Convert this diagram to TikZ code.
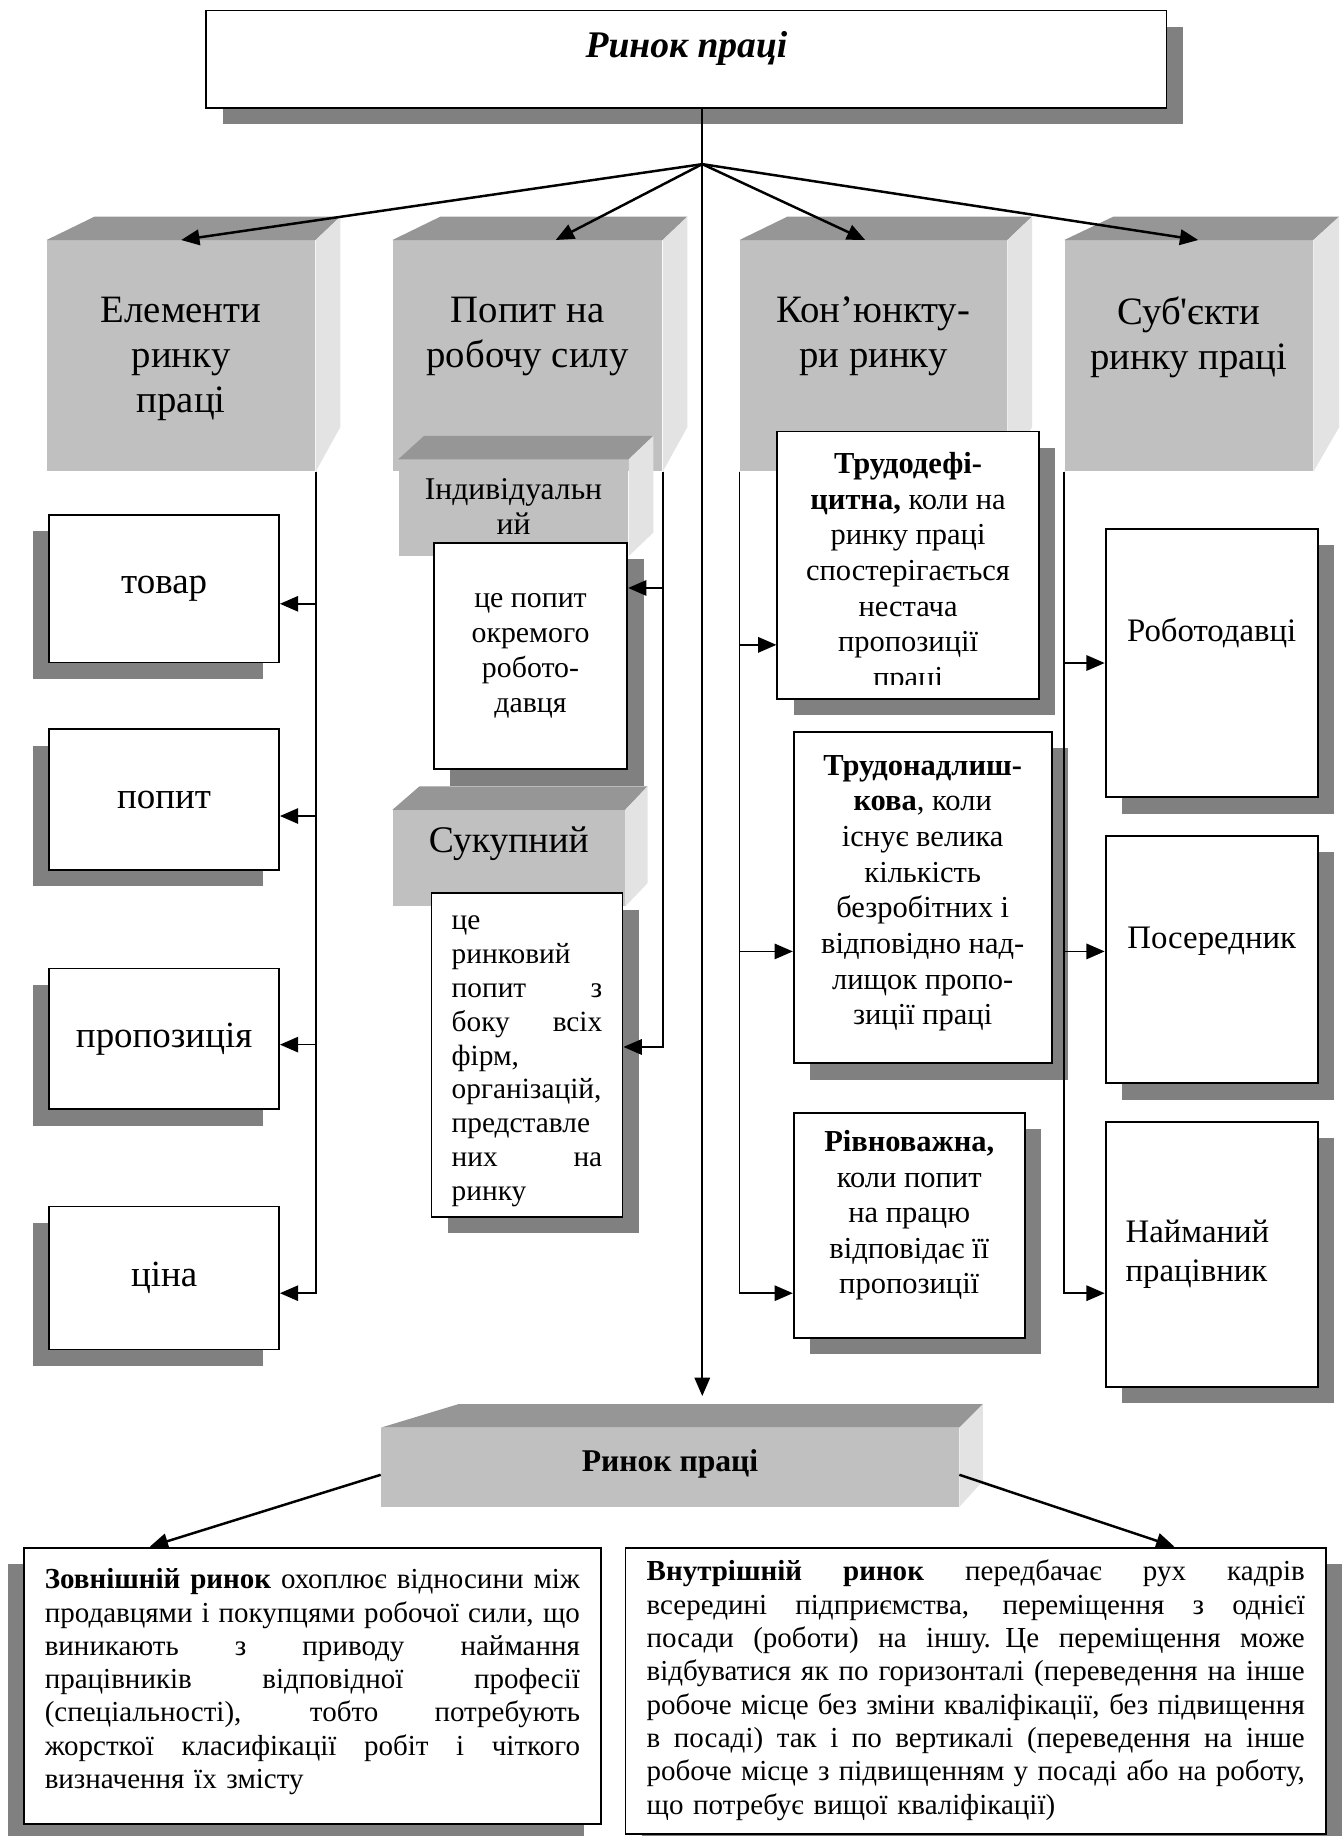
\documentclass[tikz,border=0pt]{standalone}
\usepackage{fontspec}
\setmainfont{Liberation Serif}
\usetikzlibrary{arrows.meta,calc,fit,positioning,shadows}
\definecolor{shade}{RGB}{128,128,128}
\definecolor{front}{RGB}{192,192,192}
\definecolor{topface}{RGB}{150,150,150}
\definecolor{sideface}{RGB}{227,227,227}
\tikzstyle{cube} = [fill=front, inner sep=0pt]
\tikzstyle{cubetop} = [fill=topface]
\tikzstyle{cubeside} = [fill=sideface]
\tikzstyle{wbox} = [draw, line width=1.1pt, fill=white, inner sep=0pt]
\tikzstyle{shr} = [drop shadow={shadow xshift=0.35cm, shadow yshift=-0.35cm, fill=shade, opacity=1}]
\tikzstyle{shl} = [drop shadow={shadow xshift=-0.35cm, shadow yshift=-0.35cm, fill=shade, opacity=1}]
\tikzstyle{txt} = [inner sep=0pt, align=center]
\tikzstyle{conn} = [line width=1pt]
\tikzstyle{arr} = [->, line width=1pt]
\tikzstyle{fanarr} = [->, line width=1.5pt]
\newcommand{\fTitle}{\fontsize{22.8}{26}\selectfont\bfseries\itshape}
\newcommand{\fCol}{\fontsize{23.5}{27.5}\selectfont}
\newcommand{\fLeft}{\fontsize{22.4}{26}\selectfont}
\newcommand{\fCube}{\fontsize{19.2}{21.3}\selectfont}
\newcommand{\fSub}{\fontsize{18.1}{21.3}\selectfont}
\newcommand{\fSuk}{\fontsize{17.8}{20.6}\selectfont}
\newcommand{\fKon}{\fontsize{18.5}{21.6}\selectfont}
\newcommand{\fSubj}{\fontsize{19.9}{23.5}\selectfont}
\newcommand{\fMarket}{\fontsize{19.2}{22}\selectfont\bfseries}
\newcommand{\fBottom}{\fontsize{17.6}{20.2}\selectfont}
\newlength{\sukw}\setlength{\sukw}{3.21cm}
\newlength{\extw}\setlength{\extw}{11.41cm}
\newlength{\intw}\setlength{\intw}{14.03cm}
% justified line: width, text
\newcommand{\jline}[2]{\leavevmode\hbox to #1{\spaceskip=0.25em plus 1fil\relax #2}}
% top and side faces of a cube: node, left depth, right depth, bottom rise
\newcommand{\cubefaces}[4]{%
  \fill[cubetop] (#1.north west) -- ++(#2,-20) -- ($(#1.north east)+(#3,-20)$) -- (#1.north east) -- cycle;
  \fill[cubeside] (#1.north east) -- ++(#3,-20) -- ($(#1.south east)+(#3,-#4)$) -- (#1.south east) -- cycle;
}
\begin{document}
\begin{tikzpicture}[
  x=0.025cm, y=-0.025cm,
  >={Triangle[length=0.39cm,width=0.33cm]},
]
  \useasboundingbox (0,0) rectangle (1145,1566);

  \node[wbox, shr, fit={(176,9) (995,92)}] (title) {};
  \node[txt, font=\fTitle, below=0.45cm of title.north] (title-t) {Ринок праці};

  % columns
  \node[cube, fit={(40,205) (269,402)}]  (col1) {};
  \node[cube, fit={(335,205) (565,402)}] (col2) {};
  \node[cube, fit={(631,205) (859,402)}] (col3) {};
  \node[cube, fit={(908,205) (1120,402)}] (col4) {};
  \cubefaces{col1}{41}{21}{38}
  \cubefaces{col2}{41}{21}{38}
  \cubefaces{col3}{41}{21}{38}
  \cubefaces{col4}{42}{22}{38}
  \node[txt, font=\fCol, below=1.2cm of col1.north] (col1-t) {Елементи\\ринку\\праці};
  \node[txt, font=\fCol, below=1.2cm of col2.north] (col2-t) {Попит на\\робочу силу};
  \node[txt, font=\fCol, below=1.2cm of col3.north] (col3-t) {Кон’юнкту-\\ри ринку};
  \node[txt, font=\fCol, below=1.2cm of col4.north] (col4-t) {Суб\textquotesingle єкти\\ринку праці};

  % elements
  \node[wbox, shl, fit={(42,439) (238,565)}]  (tovar)  {};
  \node[wbox, shl, fit={(42,622) (238,742)}]  (popyt)  {};
  \node[wbox, shl, fit={(42,826) (238,946)}]  (propoz) {};
  \node[wbox, shl, fit={(42,1029) (238,1151)}] (cina)  {};
  \node[txt, font=\fLeft] (tovar-t)  at (tovar.center)  {товар};
  \node[txt, font=\fLeft] (popyt-t)  at (popyt.center)  {попит};
  \node[txt, font=\fLeft] (propoz-t) at (propoz.center) {пропозиція};
  \node[txt, font=\fLeft] (cina-t)   at (cina.center)   {ціна};

  % demand
  \node[cube, fit={(340,392) (536,474)}] (indiv) {};
  \cubefaces{indiv}{22}{21}{20}
  \node[txt, font=\fCube, below=0.4cm of indiv.north] (indiv-t) {Індивідуальн\\ий};
  \node[wbox, shr, fit={(370,463) (535,656)}] (indivbox) {};
  \node[txt, font=\fSub] (indivbox-t) at (indivbox.center) {це попит\\окремого\\робото-\\давця};
  \node[cube, fit={(335,691) (533,773)}] (sukup) {};
  \cubefaces{sukup}{23}{19}{20}
  \node[txt, font=\fontsize{22.8}{26}\selectfont, below=0.36cm of sukup.north] (sukup-t) {Сукупний};
  \node[wbox, shr, fit={(368,762) (531,1038)}] (sukupbox) {};
  \node[txt, font=\fSuk, text width=\sukw, align=left, below=0.48cm of sukupbox.north] (sukupbox-t)
    {це\\ринковий\\попит\hfill з\\боку\hfill всіх\\фірм,\\організацій,\\представле\\них\hfill на\\ринку};

  % conjuncture
  \node[wbox, shr, fit={(663,368) (886,596)}] (defbox) {};
  \begin{scope}
    \clip (defbox.north west) rectangle ([yshift=0.32cm]defbox.south east);
    \node[txt, font=\fKon, below=0.46cm of defbox.north] (def-t)
      {\textbf{Трудодефі-}\\\textbf{цитна,} коли на\\ринку праці\\спостерігається\\нестача\\пропозиції\\праці};
  \end{scope}
  \node[wbox, shr, fit={(677,624) (897,907)}] (nadlbox) {};
  \node[txt, font=\fKon] (nadl-t) at ([yshift=0.09cm]nadlbox.center)
    {\textbf{Трудонадлиш-}\\\textbf{кова}, коли\\існує велика\\кількість\\безробітних і\\відповідно над-\\лищок пропо-\\зиції праці};
  \node[wbox, shr, fit={(677,949) (874,1141)}] (rivnbox) {};
  \node[txt, font=\fKon, below=0.39cm of rivnbox.north] (rivn-t)
    {\textbf{Рівноважна,}\\коли попит\\на працю\\відповідає її\\пропозиції};

  % subjects
  \node[wbox, shr, fit={(943,451) (1124,680)}] (robot) {};
  \node[txt, font=\fSubj] (robot-t) at ([yshift=0.64cm]robot.center) {Роботодавці};
  \node[wbox, shr, fit={(943,713) (1124,924)}] (poser) {};
  \node[txt, font=\fSubj] (poser-t) at ([yshift=0.39cm]poser.center) {Посередник};
  \node[wbox, shr, fit={(943,957) (1124,1183)}] (naym) {};
  \node[txt, font=\fSubj, align=left, anchor=west] (naym-t) at ([xshift=0.44cm]naym.west) {Найманий\\працівник};

  % market
  \node[cube, fit={(325,1218) (818,1285)}] (market) {};
  \cubefaces{market}{66}{20}{22}
  \node[txt, font=\fMarket] (market-t) at ([yshift=0.075cm]market.center) {Ринок праці};

  \node[wbox, shl, fit={(20.5,1320) (512.4,1556)}] (ext) {};
  \node[txt, font=\fBottom, text width=\extw, align=left, below=0.46cm of ext.north] (ext-t)
    {\jline{\extw}{\textbf{Зовнішній ринок} охоплює відносини між}\\
     \jline{\extw}{продавцями і покупцями робочої сили, що}\\
     \jline{\extw}{виникають з приводу наймання}\\
     \jline{\extw}{працівників відповідної професії}\\
     \jline{\extw}{(спеціальності), тобто потребують}\\
     \jline{\extw}{жорсткої класифікації робіт і чіткого}\\
     визначення їх змісту};
  \node[wbox, shr, fit={(533.5,1320) (1131,1564)}] (int) {};
  \node[txt, font=\fBottom, text width=\intw, align=left, below=0.28cm of int.north] (int-t)
    {\jline{\intw}{\textbf{Внутрішній ринок} передбачає рух кадрів}\\
     \jline{\intw}{всередині підприємства, переміщення з однієї}\\
     \jline{\intw}{посади (роботи) на іншу. Це переміщення може}\\
     \jline{\intw}{відбуватися як по горизонталі (переведення на інше}\\
     \jline{\intw}{робоче місце без зміни кваліфікації, без підвищення}\\
     \jline{\intw}{в посаді) так і по вертикалі (переведення на інше}\\
     \jline{\intw}{робоче місце з підвищенням у посаді або на роботу,}\\
     що потребує вищої кваліфікації)};

  % connectors
  \coordinate (fan) at (599,140);
  \draw[conn] (fan |- title.south) -- (fan);
  \draw[fanarr] (fan) -- (col1.north);
  \draw[fanarr] (fan) -- ([xshift=0.6cm]col2.north);
  \draw[fanarr] (fan) -- ([xshift=-0.175cm]col3.north);
  \draw[fanarr] (fan) -- ([xshift=0.2cm]col4.north);
  \draw[arr, shorten >=0.675cm] (fan) -- (fan |- market.north);

  \draw[arr] (col1.south east) |- ([yshift=-0.325cm]tovar.east);
  \draw[arr] (col1.south east) |- ([yshift=-0.35cm]popyt.east);
  \draw[arr] (col1.south east) |- ([yshift=-0.125cm]propoz.east);
  \draw[arr] (col1.south east) |- ([yshift=-0.325cm]cina.east);

  \draw[arr] (col2.south east) |- ([yshift=1.45cm]indivbox.east);
  \draw[arr] (col2.south east) |- ([yshift=0.175cm]sukupbox.east);

  \draw[arr] (col3.south west) |- ([yshift=-1.7cm]defbox.west);
  \draw[arr] (col3.south west) |- ([yshift=-1.15cm]nadlbox.west);
  \draw[arr] (col3.south west) |- ([yshift=-1.45cm]rivnbox.west);

  \draw[arr] (col4.south west) |- (robot.west);
  \draw[arr] (col4.south west) |- ([yshift=0.175cm]poser.west);
  \draw[arr] (col4.south west) |- ([yshift=-0.825cm]naym.west);

  \draw[fanarr] ([yshift=-0.16cm]market.west) -- ($(ext.north west)+(108,0)$);
  \draw[fanarr] ([yshift=-0.16cm]market.east) -- ($(int.north west)+(469,0)$);
\end{tikzpicture}
\end{document}
